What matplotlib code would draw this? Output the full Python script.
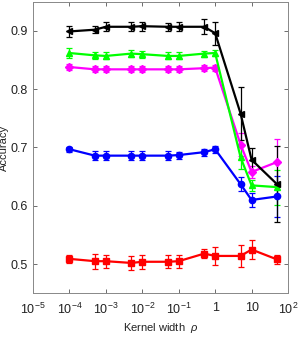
import matplotlib
matplotlib.use("Agg")
import matplotlib.pyplot as plt

# kernel widths
rho = [1e-4, 5e-4, 1e-3, 5e-3, 1e-2, 5e-2, 1e-1, 5e-1, 1, 5, 10, 50]

acc_black = [0.899, 0.902, 0.907, 0.907, 0.908, 0.907, 0.907, 0.907, 0.896, 0.758, 0.679, 0.637]
err_black = [0.010, 0.006, 0.008, 0.008, 0.008, 0.007, 0.008, 0.013, 0.020, 0.045, 0.020, 0.065]
acc_green = [0.862, 0.858, 0.857, 0.861, 0.860, 0.857, 0.857, 0.861, 0.862, 0.683, 0.635, 0.632]
err_green = [0.008, 0.006, 0.006, 0.006, 0.006, 0.006, 0.006, 0.005, 0.005, 0.020, 0.010, 0.030]
acc_mag = [0.838, 0.834, 0.834, 0.834, 0.834, 0.834, 0.834, 0.836, 0.837, 0.705, 0.658, 0.675]
err_mag = [0.005, 0.005, 0.005, 0.005, 0.005, 0.005, 0.005, 0.005, 0.005, 0.020, 0.010, 0.040]
acc_blue = [0.697, 0.686, 0.686, 0.686, 0.686, 0.686, 0.687, 0.692, 0.697, 0.637, 0.610, 0.616]
err_blue = [0.004, 0.008, 0.008, 0.008, 0.008, 0.008, 0.006, 0.006, 0.006, 0.012, 0.012, 0.035]
acc_red = [0.509, 0.505, 0.505, 0.502, 0.504, 0.504, 0.505, 0.518, 0.514, 0.514, 0.525, 0.508]
err_red = [0.007, 0.013, 0.011, 0.012, 0.012, 0.011, 0.011, 0.008, 0.015, 0.019, 0.017, 0.007]

series = [
    (acc_black, err_black, "k", "<"),
    (acc_green, err_green, "#00ff00", "^"),
    (acc_mag, err_mag, "#ff00ff", "D"),
    (acc_blue, err_blue, "#0000ff", "o"),
    (acc_red, err_red, "#ff0000", "s"),
]

plt.rcParams["font.family"] = ["Liberation Sans", "DejaVu Sans"]
plt.rcParams["mathtext.fontset"] = "custom"
plt.rcParams["mathtext.rm"] = "Liberation Sans"
plt.rcParams["mathtext.it"] = "Liberation Sans:italic"

fig = plt.figure(figsize=(3.0, 3.41), dpi=100)
ax = fig.add_axes([0.11, 0.14, 0.85, 0.855])

for acc, err, c, m in reversed(series):
    ax.errorbar(rho, acc, yerr=err, color=c, marker=m, markersize=4.5,
                linewidth=1.6, elinewidth=0.9, capsize=2.5, capthick=0.9)

ax.set_xscale("log")
ax.set_xlim(1e-5, 1e2)
ax.set_ylim(0.45, 0.95)
xt = [1e-5, 1e-4, 1e-3, 1e-2, 1e-1, 1, 10, 100]
xl = ["$10^{-5}$", "$10^{-4}$", "$10^{-3}$", "$10^{-2}$", "$10^{-1}$", "1", "10", "$10^{2}$"]
ax.set_xticks(xt)
ax.set_xticklabels(xl)
ax.minorticks_off()
ax.set_yticks([0.5, 0.6, 0.7, 0.8, 0.9])
ax.set_yticklabels(["0.5", "0.6", "0.7", "0.8", "0.9"])
ax.tick_params(direction="in", length=3, width=0.6, color="#555555",
               labelsize=9, labelcolor="#222222", top=True, right=True)
ax.tick_params(axis="x", pad=6)
for s in ax.spines.values():
    s.set_color("#888888")
    s.set_linewidth(0.7)
ax.set_xlabel(r"Kernel width  $\it{\rho}$", fontsize=8, color="#222222", labelpad=3)
ax.set_ylabel("Accuracy", fontsize=8, color="#222222", labelpad=1)

fig.savefig("out.png", dpi=100)
